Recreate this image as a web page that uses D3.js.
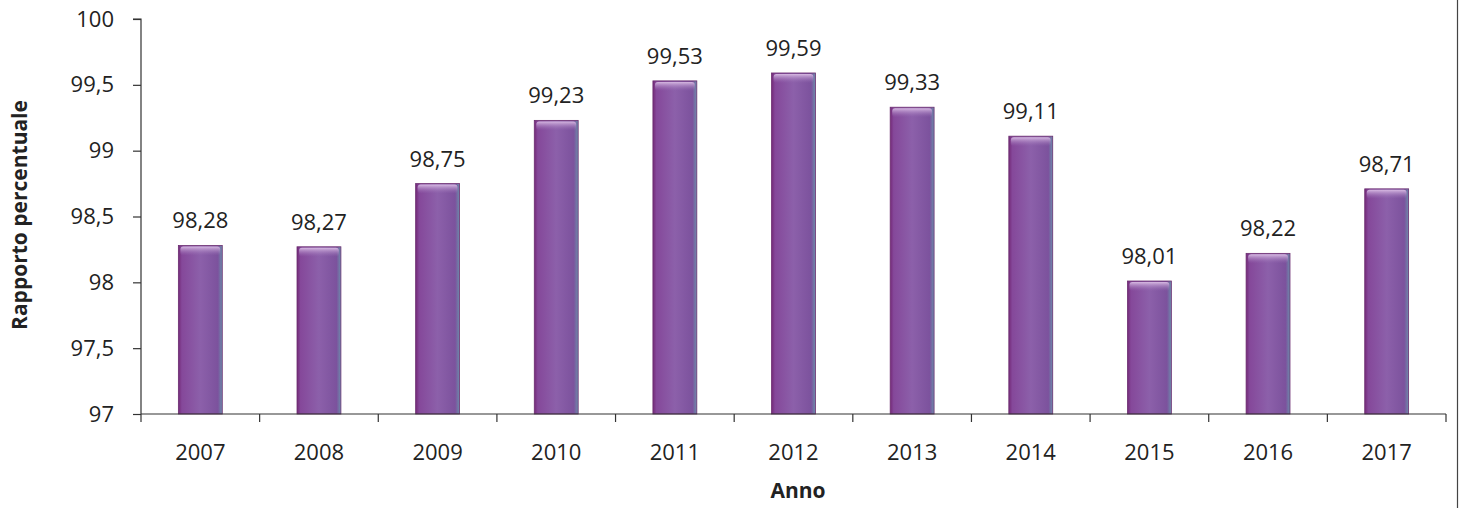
<!DOCTYPE html>
<html>
<head>
<meta charset="utf-8">
<script src="https://cdn.jsdelivr.net/npm/d3@7"></script>
<style>
body { margin: 0; background: #fff; }
svg text { font-family: "Open Sans", Lato, sans-serif; fill: #222; }
</style>
</head>
<body>
<svg id="chart" width="1459" height="508"></svg>
<script>
var years = ["2007", "2008", "2009", "2010", "2011", "2012", "2013", "2014", "2015", "2016", "2017"];
var values = [98.28, 98.27, 98.75, 99.23, 99.53, 99.59, 99.33, 99.11, 98.01, 98.22, 98.71];
var yTicks = [97, 97.5, 98, 98.5, 99, 99.5, 100];

var svg = d3.select("#chart"),
	plotL = 141, plotR = 1446, plotT = 19, plotB = 414;

var fmt = function(v) { return d3.format(".2f")(v).replace(".", ","); };
var fmtTick = function(v) { return String(v).replace(".", ","); };

var x = d3.scaleBand().domain(years).range([plotL, plotR]).paddingInner(0.63).paddingOuter(0.315);
var y = d3.scaleLinear().domain([97, 100]).range([plotB, plotT]);

// gradients for the bevelled bars
var defs = svg.append("defs");
var g1 = defs.append("linearGradient").attr("id", "barFill").attr("x1", 0).attr("x2", 1).attr("y1", 0).attr("y2", 0);
g1.append("stop").attr("offset", "0").attr("stop-color", "#742a78");
g1.append("stop").attr("offset", "0.08").attr("stop-color", "#85489a");
g1.append("stop").attr("offset", "0.5").attr("stop-color", "#8c60aa");
g1.append("stop").attr("offset", "0.9").attr("stop-color", "#7c529d");
g1.append("stop").attr("offset", "1").attr("stop-color", "#6c8cab");
var g2 = defs.append("linearGradient").attr("id", "barTop").attr("x1", 0).attr("x2", 0).attr("y1", 0).attr("y2", 1);
g2.append("stop").attr("offset", "0").attr("stop-color", "#d7b9e2");
g2.append("stop").attr("offset", "1").attr("stop-color", "#9a6fb5").attr("stop-opacity", 0);

// frame line on the right
svg.append("line")
	.attr("x1", 1457.5).attr("x2", 1457.5).attr("y1", 0).attr("y2", 508)
	.attr("stroke", "#444").attr("stroke-width", 1.2);

// bars
var bars = svg.append("g").selectAll("g")
	.data(values)
	.enter()
	.append("g");
bars.append("rect")
	.attr("x", function(d, i) { return x(years[i]); })
	.attr("y", function(d) { return y(d); })
	.attr("width", x.bandwidth())
	.attr("height", function(d) { return y(97) - y(d); })
	.attr("fill", "url(#barFill)")
	.attr("stroke", "#6b2d70").attr("stroke-width", 0.8);
bars.append("rect")
	.attr("x", function(d, i) { return x(years[i]) + 2; })
	.attr("y", function(d) { return y(d) + 1; })
	.attr("width", x.bandwidth() - 4)
	.attr("height", 9)
	.attr("rx", 3)
	.attr("fill", "url(#barTop)");
bars.append("text")
	.attr("x", function(d, i) { return x(years[i]) + x.bandwidth() / 2; })
	.attr("y", function(d) { return y(d) - 17; })
	.attr("text-anchor", "middle")
	.style("font-size", "22px")
	.text(function(d) { return fmt(d); });

// y axis
var yAxis = svg.append("g")
	.attr("transform", "translate(" + plotL + ",0)")
	.call(d3.axisLeft(y).tickValues(yTicks).tickFormat(fmtTick).tickSize(8).tickPadding(19));
yAxis.selectAll("text").style("font-size", "22px").attr("fill", "#222");
yAxis.selectAll("line, path").attr("stroke", "#333").attr("stroke-width", 1.2);
yAxis.select(".domain").attr("d", "M0," + plotB + "V" + plotT + "H-8");

// x axis with ticks at the band boundaries
var xAxis = svg.append("g").attr("transform", "translate(0," + plotB + ")");
xAxis.append("line").attr("x1", plotL).attr("x2", plotR)
	.attr("stroke", "#333").attr("stroke-width", 1.2);
var step = x.step();
xAxis.selectAll(".tk")
	.data(d3.range(years.length + 1))
	.enter()
	.append("line")
	.attr("x1", function(d) { return plotL + d * step; })
	.attr("x2", function(d) { return plotL + d * step; })
	.attr("y1", 0).attr("y2", 8)
	.attr("stroke", "#333").attr("stroke-width", 1.2);
xAxis.selectAll(".lbl")
	.data(years)
	.enter()
	.append("text")
	.attr("x", function(d) { return x(d) + x.bandwidth() / 2; })
	.attr("y", 46)
	.attr("text-anchor", "middle")
	.style("font-size", "22px")
	.text(function(d) { return d; });

// axis titles
svg.append("text")
	.attr("x", 798).attr("y", 498)
	.attr("text-anchor", "middle")
	.style("font-size", "21px").style("font-weight", "bold")
	.text("Anno");
svg.append("text")
	.attr("transform", "translate(27,215) rotate(-90)")
	.attr("text-anchor", "middle")
	.style("font-size", "21px").style("font-weight", "bold")
	.text("Rapporto percentuale");
</script>
</body>
</html>
